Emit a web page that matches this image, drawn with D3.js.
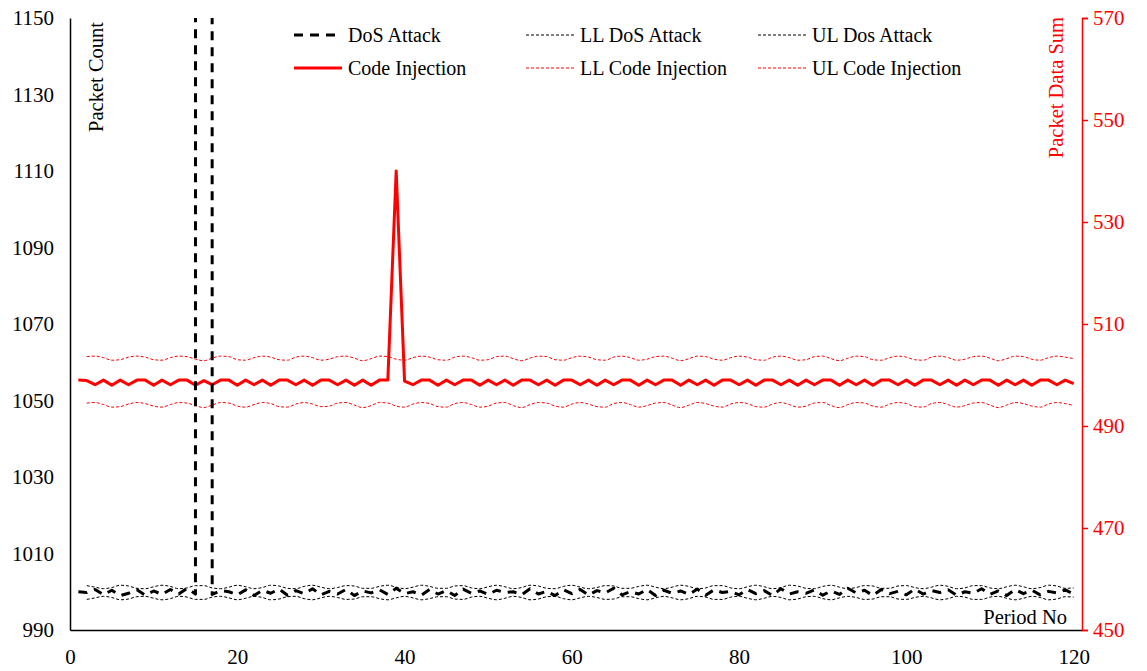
<!DOCTYPE html>
<html>
<head>
<meta charset="utf-8">
<script src="https://cdn.jsdelivr.net/npm/d3@7"></script>
<style>
  html, body { margin: 0; padding: 0; background: #fff; }
  svg { display: block; font-family: "Liberation Serif", "Times New Roman", serif; }
</style>
</head>
<body>
<svg id="chart" width="1147" height="671"></svg>
<script>
// Period numbers 1..120
const periods = d3.range(1, 121);

// Packet count per period (left axis); period 16 is the DoS burst
const dosAttack = [
  1000.0, 999.8, 1000.6, 999.2, 1000.4, 999.0, 999.6, 1000.5, 999.1, 1000.2,
  999.3, 1000.6, 999.4, 1000.9, 999.4, 30000, 999.3, 1000.3, 1000.0, 999.2,
  1000.5, 999.0, 1000.4, 999.6, 1000.7, 999.1, 1000.3, 999.5, 1000.8, 999.2,
  1000.1, 999.4, 1000.6, 999.0, 1000.2, 999.7, 1000.5, 999.3, 1000.9, 999.5,
  1000.0, 999.1, 1000.6, 999.4, 1000.3, 999.0, 1000.7, 999.6, 1000.2, 999.3,
  1000.4, 999.8, 1000.0, 999.2, 1000.8, 999.4, 1000.1, 999.0, 1000.5, 999.5,
  1000.6, 999.1, 1000.3, 999.7, 1000.9, 999.2, 1000.0, 999.4, 1000.6, 999.0,
  1000.4, 999.6, 1000.2, 999.3, 1000.7, 999.1, 1000.5, 999.8, 1000.1, 999.2,
  1000.6, 999.5, 1000.3, 999.0, 1000.8, 999.4, 1000.0, 999.6, 1000.5, 999.1,
  1000.2, 999.3, 1000.9, 999.7, 1000.4, 999.0, 1000.6, 999.5, 1000.1, 999.2,
  1000.7, 999.4, 1000.3, 999.8, 1000.5, 999.1, 1000.0, 999.6, 1000.8, 999.3,
  1000.2, 999.0, 1000.6, 999.5, 1000.4, 999.2, 1000.1, 999.7, 1000.5, 999.4
];

// Lower / upper control limits for packet count (start at period 2)
const llDos = [
  null,
  998.0, 998.4, 998.8, 998.5, 997.9, 998.1, 998.7, 998.8, 998.3, 997.9, 998.2, 998.8, 998.6, 998.0, 998.0, 998.6, 998.8, 998.4, 997.9,
  998.3, 998.8, 998.5, 997.9, 998.1, 998.7, 998.8, 998.2, 997.9, 998.4, 998.8, 998.5, 998.0, 998.1, 998.7, 998.7, 998.2, 997.9, 998.4, 998.8,
  998.4, 997.9, 998.2, 998.7, 998.7, 998.1, 998.0, 998.6, 998.8, 998.3, 997.9, 998.3, 998.8, 998.5, 997.9, 998.1, 998.7, 998.8, 998.2, 997.9,
  998.4, 998.8, 998.5, 998.0, 998.1, 998.7, 998.7, 998.2, 997.9, 998.4, 998.8, 998.4, 997.9, 998.2, 998.8, 998.6, 998.0, 998.0, 998.6, 998.8,
  998.3, 997.9, 998.3, 998.8, 998.5, 997.9, 998.1, 998.7, 998.8, 998.2, 997.9, 998.4, 998.8, 998.5, 998.0, 998.1, 998.7, 998.7, 998.1, 998.0,
  998.5, 998.8, 998.4, 997.9, 998.2, 998.8, 998.6, 998.0, 998.0, 998.6, 998.8, 998.3, 997.9, 998.3, 998.8, 998.5, 997.9, 998.1, 998.7, 998.6
];
const ulDos = [
  null,
  1001.6, 1001.2, 1000.8, 1001.1, 1001.7, 1001.5, 1000.9, 1000.8, 1001.3, 1001.7, 1001.4, 1000.8, 1001.0, 1001.6, 1001.6, 1001.0, 1000.8, 1001.2, 1001.7,
  1001.3, 1000.8, 1001.1, 1001.7, 1001.5, 1000.9, 1000.8, 1001.4, 1001.7, 1001.2, 1000.8, 1001.1, 1001.6, 1001.5, 1000.9, 1000.9, 1001.4, 1001.7, 1001.2, 1000.8,
  1001.2, 1001.7, 1001.4, 1000.9, 1000.9, 1001.5, 1001.6, 1001.0, 1000.8, 1001.3, 1001.7, 1001.3, 1000.8, 1001.1, 1001.7, 1001.5, 1000.9, 1000.8, 1001.4, 1001.7,
  1001.2, 1000.8, 1001.1, 1001.6, 1001.5, 1000.9, 1000.9, 1001.4, 1001.7, 1001.2, 1000.8, 1001.2, 1001.7, 1001.4, 1000.8, 1001.0, 1001.6, 1001.6, 1001.0, 1000.8,
  1001.3, 1001.7, 1001.3, 1000.8, 1001.1, 1001.7, 1001.5, 1000.9, 1000.8, 1001.4, 1001.7, 1001.2, 1000.8, 1001.1, 1001.6, 1001.5, 1000.9, 1000.9, 1001.5, 1001.6,
  1001.1, 1000.8, 1001.2, 1001.7, 1001.4, 1000.8, 1001.0, 1001.6, 1001.6, 1001.0, 1000.8, 1001.3, 1001.7, 1001.3, 1000.8, 1001.1, 1001.7, 1001.5, 1000.9, 1001.0
];

// Packet data sum per period (right axis); period 39 is the injection
const codeInjection = [
  499.0, 498.9, 498.1, 499.0, 498.0, 499.0, 498.1, 499.0, 499.0, 498.0,
  499.0, 498.1, 499.0, 499.0, 498.0, 498.9, 498.1, 499.0, 499.0, 498.0,
  499.0, 498.1, 499.0, 498.0, 499.0, 499.0, 498.1, 499.0, 498.0, 499.0,
  499.0, 498.1, 499.0, 498.0, 499.0, 498.0, 499.0, 499.0, 540.0, 498.8,
  498.1, 499.0, 499.0, 498.0, 499.0, 498.1, 499.0, 499.0, 498.0, 499.0,
  498.1, 499.0, 498.0, 499.0, 499.0, 498.1, 499.0, 498.0, 499.0, 499.0,
  498.1, 499.0, 498.0, 499.0, 498.1, 499.0, 499.0, 498.0, 499.0, 498.1,
  499.0, 499.0, 498.0, 499.0, 498.1, 499.0, 498.0, 499.0, 499.0, 498.1,
  499.0, 498.0, 499.0, 499.0, 498.1, 499.0, 498.0, 499.0, 498.1, 499.0,
  499.0, 498.0, 499.0, 498.1, 499.0, 498.0, 499.0, 499.0, 498.1, 499.0,
  498.0, 499.0, 499.0, 498.1, 499.0, 498.0, 499.0, 498.1, 499.0, 499.0,
  498.0, 499.0, 498.1, 499.0, 498.0, 499.0, 499.0, 498.1, 499.0, 498.3
];

// Lower / upper control limits for packet data sum (start at period 2)
const llCode = [
  null,
  494.5, 494.6, 494.2, 493.7, 493.8, 494.3, 494.6, 494.4, 493.9, 493.7, 494.2, 494.6, 494.5, 494.0, 493.6, 494.1, 494.6, 494.5, 493.9,
  493.7, 494.2, 494.6, 494.4, 493.8, 493.7, 494.3, 494.6, 494.3, 493.8, 493.9, 494.5, 494.6, 494.1, 493.6, 494.0, 494.6, 494.5, 493.9, 493.7,
  494.3, 494.6, 494.4, 493.8, 493.7, 494.4, 494.6, 494.2, 493.7, 493.9, 494.5, 494.6, 494.0, 493.6, 494.2, 494.6, 494.5, 493.9, 493.7, 494.3,
  494.6, 494.3, 493.8, 493.7, 494.4, 494.6, 494.2, 493.7, 494.0, 494.5, 494.6, 494.1, 493.6, 494.1, 494.6, 494.4, 493.9, 493.7, 494.3, 494.6,
  494.4, 493.8, 493.7, 494.3, 494.6, 494.2, 493.7, 493.9, 494.5, 494.6, 494.0, 493.6, 494.2, 494.6, 494.5, 493.9, 493.7, 494.3, 494.6, 494.4,
  493.8, 493.7, 494.4, 494.6, 494.2, 493.7, 494.0, 494.5, 494.6, 494.1, 493.6, 494.1, 494.6, 494.4, 493.9, 493.7, 494.3, 494.6, 494.4, 494.0
];
const ulCode = [
  null,
  503.6, 503.7, 503.4, 502.9, 503.0, 503.5, 503.7, 503.5, 503.0, 502.9, 503.4, 503.7, 503.6, 503.1, 502.8, 503.3, 503.7, 503.6, 503.0,
  502.9, 503.4, 503.7, 503.5, 503.0, 502.9, 503.5, 503.7, 503.4, 502.9, 503.1, 503.6, 503.7, 503.3, 502.8, 503.2, 503.7, 503.6, 503.1, 502.9,
  503.4, 503.7, 503.5, 503.0, 502.9, 503.5, 503.7, 503.4, 502.9, 503.0, 503.6, 503.7, 503.2, 502.8, 503.3, 503.7, 503.6, 503.0, 502.9, 503.4,
  503.7, 503.5, 503.0, 502.9, 503.5, 503.7, 503.4, 502.9, 503.1, 503.6, 503.7, 503.3, 502.8, 503.2, 503.7, 503.6, 503.1, 502.9, 503.4, 503.7,
  503.5, 503.0, 502.9, 503.5, 503.7, 503.4, 502.9, 503.0, 503.6, 503.7, 503.2, 502.8, 503.3, 503.7, 503.6, 503.0, 502.9, 503.4, 503.7, 503.5,
  503.0, 502.9, 503.5, 503.7, 503.4, 502.9, 503.1, 503.6, 503.7, 503.3, 502.8, 503.2, 503.7, 503.6, 503.1, 502.9, 503.4, 503.7, 503.5, 503.2
];

// Axis ticks
const xTicks = [0, 20, 40, 60, 80, 100, 120];
const leftTicks = [990, 1010, 1030, 1050, 1070, 1090, 1110, 1130, 1150];
const rightTicks = [450, 470, 490, 510, 530, 550, 570];

const RED = "#ff0000";
const FONT = "Liberation Serif, Times New Roman, serif";
const FS_TICK = 21;   // tick labels
const FS_TITLE = 20.5; // axis titles
const FS_LEGEND = 20; // legend entries
const svg = d3.select("#chart");
const plot = { left: 70, right: 1082, top: 18, bottom: 630 };

const x = d3.scaleLinear().domain([0, 121]).range([plot.left, plot.right]);
const yL = d3.scaleLinear().domain([990, 1150]).range([plot.bottom, plot.top]);
const yR = d3.scaleLinear().domain([450, 570]).range([plot.bottom, plot.top]);

svg.append("defs").append("clipPath").attr("id", "plot-clip")
  .append("rect")
  .attr("x", plot.left).attr("y", plot.top)
  .attr("width", plot.right - plot.left).attr("height", plot.bottom - plot.top);

// Series definitions
const series = [
  { name: "DoS Attack", values: dosAttack, y: yL, color: "#000", width: 3, dash: "9,7", smooth: false },
  { name: "LL DoS Attack", values: llDos, y: yL, color: "#000", width: 1, dash: "3,2", smooth: true },
  { name: "UL Dos Attack", values: ulDos, y: yL, color: "#000", width: 1, dash: "3,2", smooth: true },
  { name: "Code Injection", values: codeInjection, y: yR, color: RED, width: 3, dash: null, smooth: false },
  { name: "LL Code Injection", values: llCode, y: yR, color: RED, width: 1, dash: "3,2", smooth: true },
  { name: "UL Code Injection", values: ulCode, y: yR, color: RED, width: 1, dash: "3,2", smooth: true }
];

const linesG = svg.append("g").attr("clip-path", "url(#plot-clip)");
const drawOrder = [1, 2, 4, 5, 3, 0];
drawOrder.forEach(i => {
  const s = series[i];
  const pts = periods.map((p, k) => ({ p, v: s.values[k] }));
  const line = d3.line()
    .defined(d => d.v != null)
    .x(d => x(d.p))
    .y(d => s.y(d.v))
    .curve(s.smooth ? d3.curveMonotoneX : d3.curveLinear);
  linesG.append("path")
    .datum(pts)
    .attr("d", line)
    .attr("fill", "none")
    .attr("stroke", s.color)
    .attr("stroke-width", s.width)
    .attr("stroke-dasharray", s.dash)
    .attr("stroke-linejoin", "round");
});

// Left axis (packet count)
const leftAxis = d3.axisLeft(yL).tickValues(leftTicks).tickFormat(d3.format("d"))
  .tickSize(0).tickPadding(16);
const gL = svg.append("g").attr("transform", `translate(${plot.left},0)`).call(leftAxis);
gL.select(".domain").attr("stroke", "#000").attr("stroke-width", 1.5);
gL.selectAll("text").attr("font-size", FS_TICK).attr("fill", "#000").attr("font-family", FONT);

// Bottom axis (period)
const bottomAxis = d3.axisBottom(x).tickValues(xTicks).tickFormat(d3.format("d"))
  .tickSize(0).tickPadding(19);
const gB = svg.append("g").attr("transform", `translate(0,${plot.bottom})`).call(bottomAxis);
gB.select(".domain").attr("stroke", "#000").attr("stroke-width", 1.5);
gB.selectAll("text").attr("font-size", FS_TICK).attr("fill", "#000").attr("font-family", FONT);

// Right axis (packet data sum)
const rightAxis = d3.axisRight(yR).tickValues(rightTicks).tickFormat(d3.format("d"))
  .tickSize(6).tickPadding(5);
const gR = svg.append("g").attr("transform", `translate(${plot.right},0)`).call(rightAxis);
gR.select(".domain").attr("stroke", RED).attr("stroke-width", 1.5);
gR.selectAll(".tick line").attr("stroke", RED).attr("stroke-width", 1.5);
gR.selectAll("text").attr("font-size", FS_TICK).attr("fill", RED).attr("font-family", FONT);

// Axis titles
svg.append("text")
  .attr("transform", `translate(103,22) rotate(-90)`)
  .attr("text-anchor", "end")
  .attr("font-size", FS_TITLE).attr("fill", "#000")
  .text("Packet Count");

svg.append("text")
  .attr("transform", `translate(1063,17) rotate(-90)`)
  .attr("text-anchor", "end")
  .attr("font-size", FS_TITLE).attr("fill", RED)
  .text("Packet Data Sum");

svg.append("text")
  .attr("x", 1067).attr("y", 624)
  .attr("text-anchor", "end")
  .attr("font-size", FS_TITLE).attr("fill", "#000")
  .text("Period No");

// Legend: two rows of three entries
const legendCols = [294, 526, 758];
const legendRows = [35, 68];
const legend = svg.append("g");
series.forEach((s, i) => {
  const col = i % 3, row = Math.floor(i / 3);
  const lx = legendCols[col], ly = legendRows[row];
  legend.append("line")
    .attr("x1", lx).attr("x2", lx + 48)
    .attr("y1", ly).attr("y2", ly)
    .attr("stroke", s.color)
    .attr("stroke-width", s.width)
    .attr("stroke-dasharray", s.dash);
  legend.append("text")
    .attr("x", lx + 54).attr("y", ly + 7)
    .attr("font-size", FS_LEGEND).attr("fill", "#000")
    .text(s.name);
});
</script>
</body>
</html>
